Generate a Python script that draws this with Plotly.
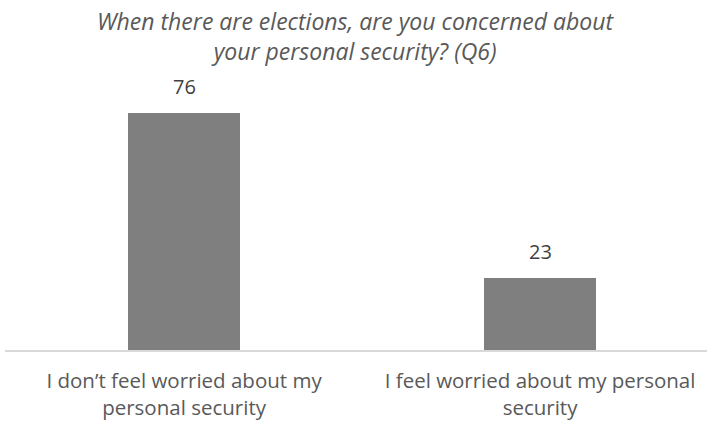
import plotly.graph_objects as go

categories = ["I don’t feel worried about my<br>personal security", "I feel worried about my personal<br>security"]
values = [76, 23]
title_text = "When there are elections, are you concerned about<br>your personal security? (Q6)"

fig = go.Figure(go.Bar(
    x=[0, 1], y=values, width=0.315,
    marker=dict(color="#7f7f7f", line=dict(width=0)),
    hoverinfo="skip",
))
fig.update_layout(
    width=709, height=425,
    margin=dict(l=5, r=2, t=80, b=75),
    paper_bgcolor="white", plot_bgcolor="white",
    showlegend=False,
    bargap=0,
)
for xi, v in enumerate(values):
    fig.add_annotation(x=xi, y=v, text=str(v), showarrow=False, yanchor="bottom", yshift=11,
                       font=dict(family="Open Sans", size=20, color="#404040"))
fig.add_annotation(text=title_text, xref="paper", yref="paper", x=0.5, xanchor="center",
                   y=1 + (80 - 36) / 270, yanchor="middle", showarrow=False, align="center",
                   font=dict(family="Open Sans", size=23, color="#595959", style="italic"))
fig.update_xaxes(range=[-0.503, 1.469], tickmode="array", tickvals=[0, 1], ticktext=categories,
                 showline=True, linecolor="#d9d9d9", linewidth=1.5, ticks="", showgrid=False,
                 zeroline=False, ticklabelstandoff=12,
                 tickfont=dict(family="Open Sans", size=20.5, color="#595959"))
fig.update_yaxes(range=[0, 86.5], visible=False, showgrid=False, zeroline=False)
fig.write_html("out.html", config={"displayModeBar": False},
               post_script="document.body.style.margin='0';document.body.style.padding='0';")
